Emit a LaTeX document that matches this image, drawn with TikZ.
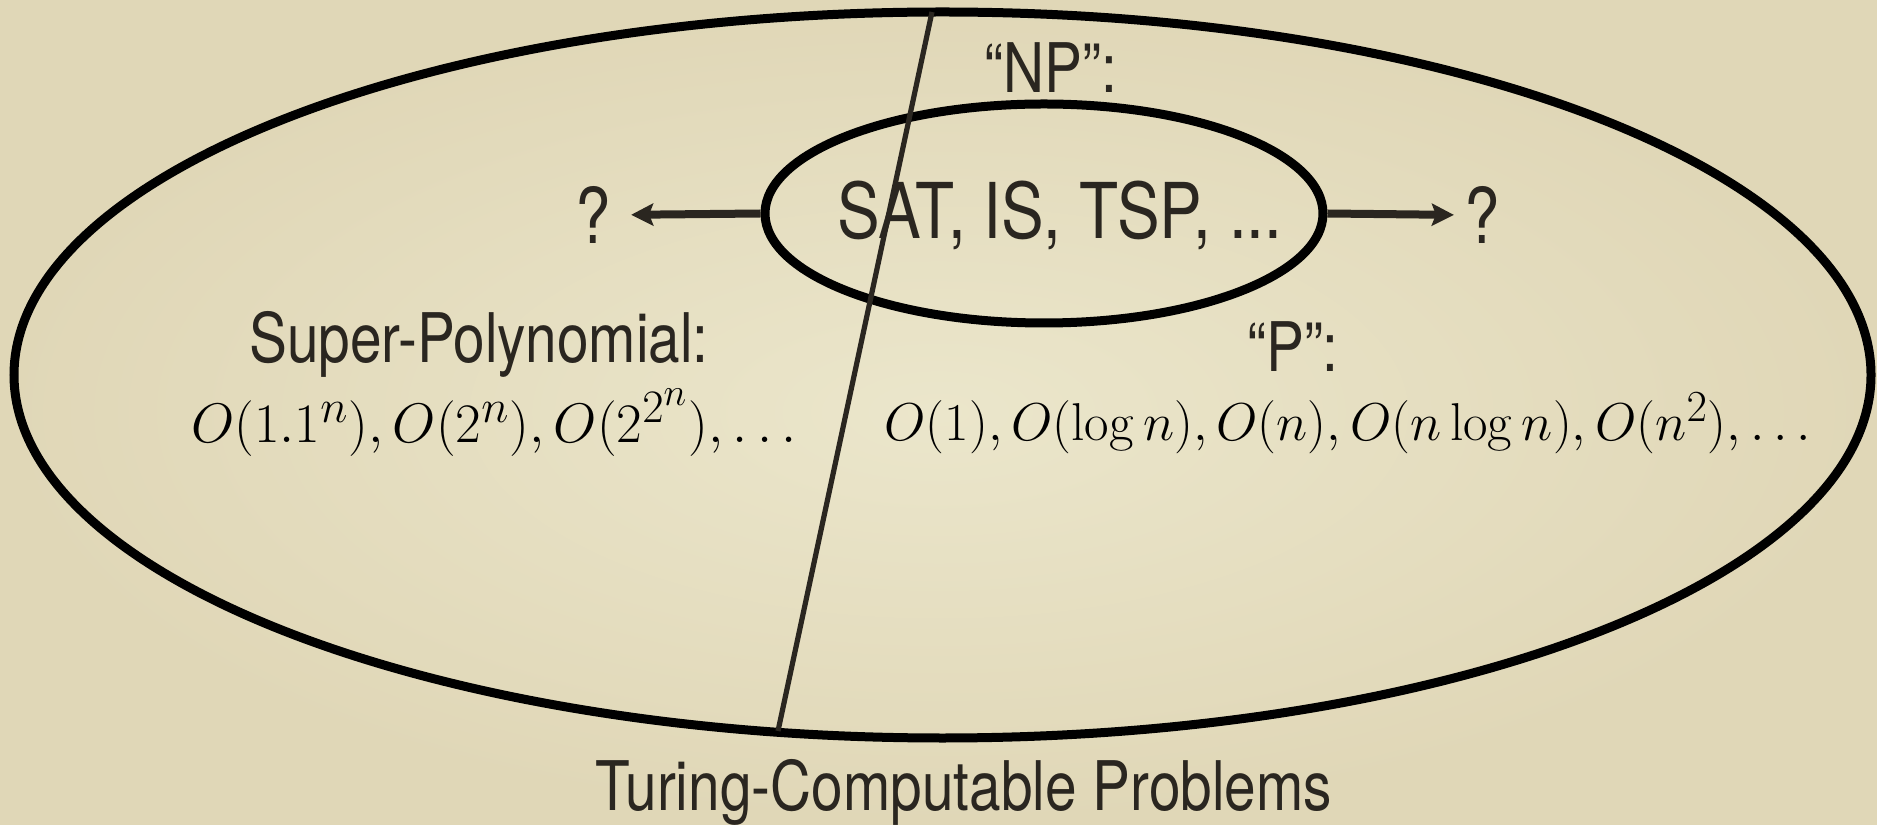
\documentclass[tikz,border=0pt]{standalone}
\usepackage[no-math]{fontspec}
\setmainfont{TeX Gyre Heros}
\newfontfamily\slidefont[FakeStretch=0.83]{TeX Gyre Heros}
\usetikzlibrary{shapes.geometric,arrows.meta,positioning}

\definecolor{paper}{HTML}{EBE6CB}
\definecolor{paperedge}{HTML}{E0D7B7}
\definecolor{ink}{HTML}{2A2620}

\tikzset{
  setline/.style={shape=ellipse, draw=black, inner sep=0pt},
  txt/.style={text=ink, inner sep=0pt, font=\slidefont\fontsize{34.2}{40}\selectfont},
  bigtxt/.style={text=ink, inner sep=0pt, font=\slidefont\fontsize{38.5}{44}\selectfont},
  mathtxt/.style={text=black, inner sep=0pt, font=\fontsize{24.88}{30}\selectfont},
  qarrow/.style={draw=ink, line width=4pt, -{Stealth[length=11pt,width=11pt,inset=2pt]}},
}

\begin{document}
\begin{tikzpicture}[x=0.5pt,y=0.5pt]
  \shade[inner color=paper, outer color=paperedge] (0,0) rectangle (1877,824);

  % the two sets
  \node[setline, line width=4.5pt, minimum width=928.5pt, minimum height=363pt] (tcp) at (942.5,449) {};
  \node[setline, line width=4.5pt, minimum width=279pt, minimum height=109.5pt] (np) at (1044,610.5) {};

  % the split between P and super-polynomial
  \coordinate (divtop) at (932,812);
  \coordinate (divbot) at (778,93);
  \draw[ink, line width=2.6pt] (divtop) -- (divbot);

  % labels
  \node[txt] (nplabel) at (1051,756) {“NP”:};
  \node[bigtxt] (sat) at (1060,609) {SAT, IS, TSP, ...};
  \node[bigtxt] (qleft) at (593,609) {?};
  \node[bigtxt] (qright) at (1482,609) {?};
  \draw[qarrow, shorten >=10pt] (np.west) -- (qleft.east);
  \draw[qarrow, shorten >=5pt] (np.east) -- (qright.west);

  \node[txt] (superlabel) at (479,480) {Super-Polynomial:};
  \node[mathtxt] (superex) at (494,401) {\scalebox{1.12}{$O(1.1^n), O(2^n), O(2^{2^n}), \ldots$}};
  \node[txt] (plabel) at (1293,477) {“P”:};
  \node[mathtxt] (pex) at (1348,401) {\scalebox{1.07}{$O(1), O(\log n), O(n), O(n\log n), O(n^2), \ldots$}};

  \node[txt] (tcplabel) at (964,32) {Turing-Computable Problems};
\end{tikzpicture}
\end{document}
